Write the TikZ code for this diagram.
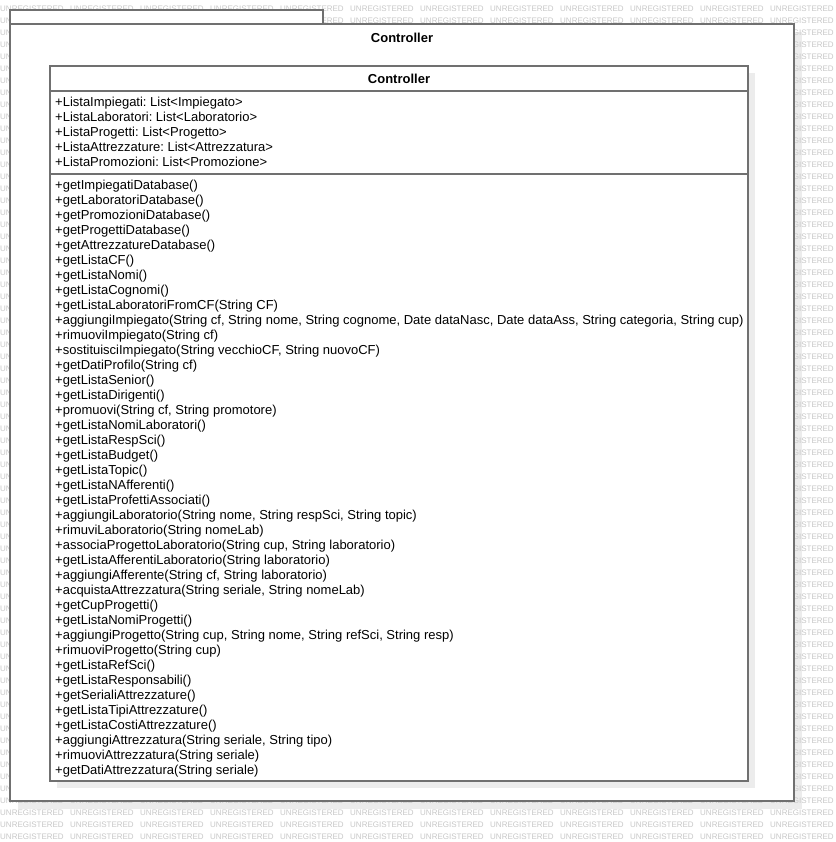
\documentclass[tikz,border=0pt]{standalone}
\usepackage{fontspec}
\setmainfont{Liberation Sans}
\frenchspacing
\definecolor{umlline}{RGB}{112,112,112}
\definecolor{wmcol}{RGB}{200,200,200}
\definecolor{shadowc}{RGB}{236,236,236}
\tikzset{
  wmtext/.style={anchor=west,inner sep=0pt,text=wmcol,font=\fontsize{8}{8}\selectfont},
  umlbox/.style={draw=umlline,line width=1.3pt,fill=white,inner sep=0pt,outer sep=0pt},
  shadowbox/.style={fill=shadowc,draw=none,inner sep=0pt,outer sep=0pt},
  titletext/.style={anchor=base,inner sep=0pt,font=\fontsize{13}{15}\selectfont\bfseries},
  membertext/.style={anchor=base west,inner sep=0pt,font=\fontsize{13}{15}\selectfont\frenchspacing},
  seprule/.style={draw=umlline,line width=1.3pt}
}
\begin{document}
\begin{tikzpicture}[x=1pt,y=-1pt]
\useasboundingbox[fill=white] (0,0) rectangle (835,842);
% shadows
\node[shadowbox,minimum width=784pt,minimum height=777pt] (pkgshadow) at (410,420.5) {};
% watermark
\foreach \r in {0,...,69}{
  \foreach \c in {0,...,11}{
    \node[wmtext] (wm-\r-\c) at (70*\c,9+12*\r) {UNREGISTERED};
  }
}
% package
\node[umlbox,minimum width=313pt,minimum height=14pt] (tab) at (166.5,17) {};
\node[umlbox,minimum width=784pt,minimum height=777pt] (pkg) at (402,412.5) {};
\node[titletext] (pkgname) at (402,42.3) {Controller};
% class
\node[shadowbox,minimum width=698pt,minimum height=715pt] (clsshadow) at (406,430.5) {};
\node[umlbox,minimum width=698pt,minimum height=715pt] (cls) at (399,423.5) {};
\node[titletext] (clsname) at (399,83.3) {Controller};
\coordinate (sepA) at (0,91);
\coordinate (sepB) at (0,174);
\draw[seprule] (cls.west |- sepA) -- (cls.east |- sepA);
\draw[seprule] (cls.west |- sepB) -- (cls.east |- sepB);
% attributes
\foreach \t [count=\i from 0] in {
  {+ListaImpiegati: List<Impiegato>},
  {+ListaLaboratori: List<Laboratorio>},
  {+ListaProgetti: List<Progetto>},
  {+ListaAttrezzature: List<Attrezzatura>},
  {+ListaPromozioni: List<Promozione>}}{
  \node[membertext] (attr-\i) at (55,106.3+15*\i) {\t};
}
% methods
\foreach \t [count=\i from 0] in {
  {+getImpiegatiDatabase()},
  {+getLaboratoriDatabase()},
  {+getPromozioniDatabase()},
  {+getProgettiDatabase()},
  {+getAttrezzatureDatabase()},
  {+getListaCF()},
  {+getListaNomi()},
  {+getListaCognomi()},
  {+getListaLaboratoriFromCF(String CF)},
  {+aggiungiImpiegato(String cf, String nome, String cognome, Date dataNasc, Date dataAss, String categoria, String cup)},
  {+rimuoviImpiegato(String cf)},
  {+sostituisciImpiegato(String vecchioCF, String nuovoCF)},
  {+getDatiProfilo(String cf)},
  {+getListaSenior()},
  {+getListaDirigenti()},
  {+promuovi(String cf, String promotore)},
  {+getListaNomiLaboratori()},
  {+getListaRespSci()},
  {+getListaBudget()},
  {+getListaTopic()},
  {+getListaNAfferenti()},
  {+getListaProfettiAssociati()},
  {+aggiungiLaboratorio(String nome, String respSci, String topic)},
  {+rimuviLaboratorio(String nomeLab)},
  {+associaProgettoLaboratorio(String cup, String laboratorio)},
  {+getListaAfferentiLaboratorio(String laboratorio)},
  {+aggiungiAfferente(String cf, String laboratorio)},
  {+acquistaAttrezzatura(String seriale, String nomeLab)},
  {+getCupProgetti()},
  {+getListaNomiProgetti()},
  {+aggiungiProgetto(String cup, String nome, String refSci, String resp)},
  {+rimuoviProgetto(String cup)},
  {+getListaRefSci()},
  {+getListaResponsabili()},
  {+getSerialiAttrezzature()},
  {+getListaTipiAttrezzature()},
  {+getListaCostiAttrezzature()},
  {+aggiungiAttrezzatura(String seriale, String tipo)},
  {+rimuoviAttrezzatura(String seriale)},
  {+getDatiAttrezzatura(String seriale)}}{
  \node[membertext] (meth-\i) at (55,189.3+15*\i) {\t};
}
\end{tikzpicture}
\end{document}
